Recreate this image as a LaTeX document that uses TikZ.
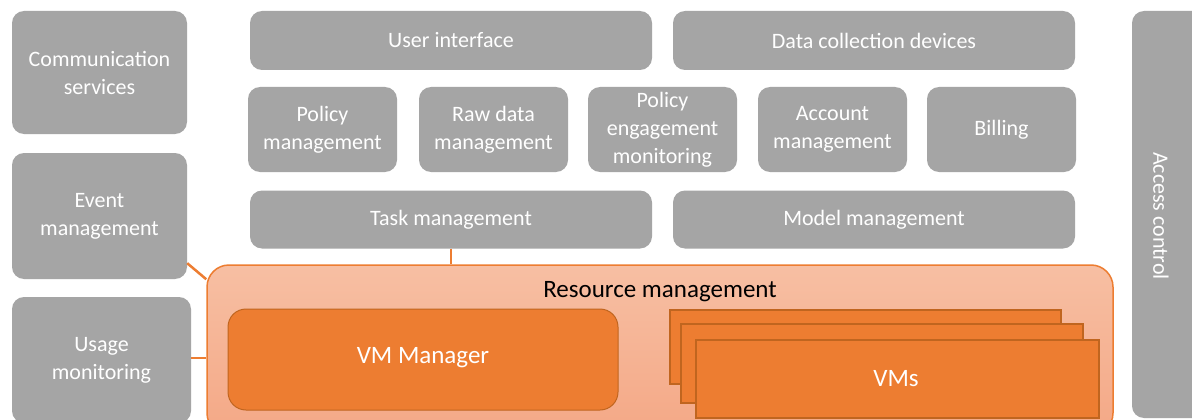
\documentclass[tikz,border=0pt]{standalone}
\usepackage{fontspec}
\setmainfont{Carlito}
\usetikzlibrary{calc}
\definecolor{cGray}{HTML}{A5A5A5}
\definecolor{cOrange}{HTML}{ED7D31}
\definecolor{cOrangeDark}{HTML}{C0651F}
\definecolor{cResTop}{HTML}{F7BFA3}
\definecolor{cResBot}{HTML}{F4A886}
\begin{document}
\begin{tikzpicture}[x=1pt,y=-1pt,
  gbox/.style={draw=none, fill=cGray, rounded corners=12pt, text=white, align=center,
    font=\fontsize{22}{28}\selectfont, inner sep=0pt},
  resbox/.style={draw=cOrange, line width=1.5pt, top color=cResTop, bottom color=cResBot,
    rounded corners=22pt, inner sep=0pt},
  vmmbox/.style={draw=cOrangeDark, line width=1pt, fill=cOrange, rounded corners=18pt,
    inner sep=0pt},
  vmbox/.style={draw=cOrangeDark, line width=1.2pt, fill=cOrange, inner sep=0pt},
  vmtxt/.style={text=white, font=\fontsize{25}{28}\selectfont, inner sep=0pt},
  link/.style={draw=cOrange, line width=2.5pt}
]
\useasboundingbox (0,0) rectangle (1192,420);
\clip (0,0) rectangle (1192,420);
\fill[white] (0,0) rectangle (1192,420);

% left column
\node[gbox, minimum width=175pt, minimum height=123pt] (comm) at (99.5,72.5) {Communication\\services};
\node[gbox, minimum width=175pt, minimum height=126pt] (event) at (99.5,216) {Event\\management};
\node[gbox, minimum width=179pt, minimum height=126pt] (usage) at (101.5,360) {Usage\\monitoring};

% top row
\node[gbox, minimum width=402pt, minimum height=59pt] (ui) at (451,40.5) {User interface};
\node[gbox, minimum width=402pt, minimum height=59pt] (dcd) at (874,40.5) {Data collection devices};

% second row
\node[gbox, minimum width=149pt, minimum height=85pt] (pm) at (322.5,129.5) {Policy\\management};
\node[gbox, minimum width=149pt, minimum height=85pt] (rdm) at (493.5,129.5) {Raw data\\management};
\node[gbox, minimum width=149pt, minimum height=85pt] (pem) at (662.5,129.5) {Policy\\engagement\\monitoring};
\node[gbox, minimum width=149pt, minimum height=85pt] (am) at (832.5,129.5) {Account\\management};
\node[gbox, minimum width=149pt, minimum height=85pt] (bill) at (1001.5,129.5) {Billing};

% third row
\node[gbox, minimum width=402pt, minimum height=58pt] (task) at (451,219.5) {Task management};
\node[gbox, minimum width=402pt, minimum height=58pt] (model) at (874,219.5) {Model management};

% access control
\node[gbox, minimum width=83pt, minimum height=407pt] (acc) at (1173.5,214.5) {};
\node[text=white, font=\fontsize{22}{28}\selectfont, rotate=-90, inner sep=0pt] (acctext) at (1161,216) {Access control};

% resource management
\node[resbox, minimum width=906pt, minimum height=170pt] (res) at (660,350) {};
\node[font=\fontsize{25}{28}\selectfont, text=black, inner sep=0pt] (restext) at (660,292) {Resource management};

\node[vmmbox, minimum width=390pt, minimum height=101pt] (vmm) at (423,359.5) {};
\node[vmtxt] (vmmtext) at (423,358) {VM Manager};

\node[vmbox, minimum width=391pt, minimum height=74pt] (vm1) at (865.5,347) {};
\node[vmbox, minimum width=402pt, minimum height=79pt] (vm2) at (882,363.5) {};
\node[vmbox, minimum width=403pt, minimum height=78pt] (vm3) at (897.5,379) {};
\node[vmtxt] (vmtext) at (896,379) {VMs};

% connectors
\draw[link] ($(event.south east)+(0,-16)$) -- ($(res.north west)+(0,15)$);
\draw[link] (usage.east) ++(0,-2) coordinate (ue) -- (ue -| res.west);
\draw[link] (task.south) -- (task.south |- res.north);
\end{tikzpicture}
\end{document}
